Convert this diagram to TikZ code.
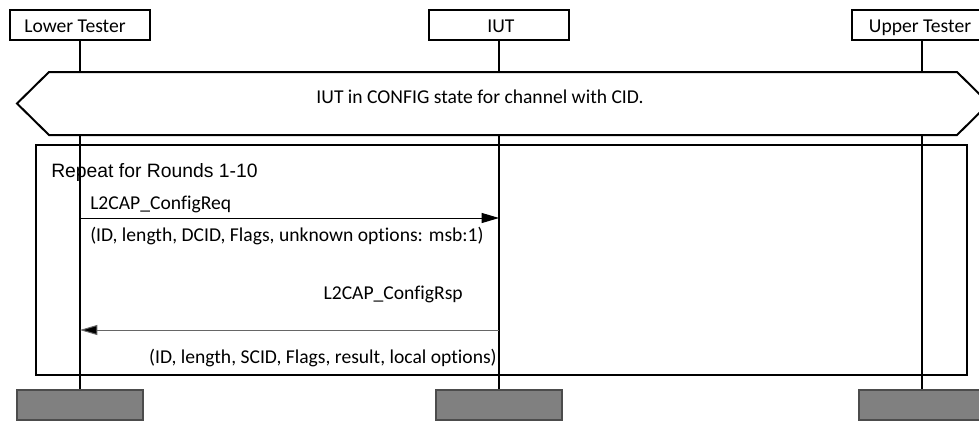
\documentclass[tikz,border=0pt]{standalone}
\usepackage{fontspec}
\setmainfont{Carlito}[Ligatures={NoCommon}]
\newfontfamily\arialf{Liberation Sans}
\usetikzlibrary{arrows.meta}
\begin{document}
\begin{tikzpicture}[x=0.75pt,y=-0.75pt,
  actor/.style={draw,line width=1.5pt,minimum width=105pt,minimum height=22.5pt,inner sep=0pt,fill=white},
  endbox/.style={draw=black!70,line width=0.8pt,fill=black!50,minimum width=94.5pt,minimum height=22.5pt,inner sep=0pt},
  life/.style={line width=1.5pt},
  msg/.style={line width=0.75pt,-{Triangle[length=13pt,width=7.5pt]}},
  lbl/.style={font=\fontsize{14.7}{17}\selectfont,inner sep=0pt}]
\useasboundingbox (0,0) rectangle (979,421);
\clip (0,0) rectangle (979,421);
% actors
\node[actor] (lt) at (80,25) {};
\node[actor] (iut) at (499,25) {};
\node[actor] (ut) at (922,25) {};
\node[lbl,anchor=base] (ltl) at (75,32) {Lower Tester};
\node[lbl,anchor=base] (iutl) at (501,32) {IUT};
\node[lbl,anchor=base] (utl) at (920,32) {Upper Tester};
% end boxes
\node[endbox] (ltb) at (80,405) {};
\node[endbox] (iutb) at (499,405) {};
\node[endbox] (utb) at (922,405) {};
% lifelines
\draw[life] (lt.south) -- (ltb.north);
\draw[life] (iut.south) -- (iutb.north);
\draw[life] (ut.south) -- (utb.north);
% hexagon
\draw[line width=1.5pt,fill=white] (17,103.5) -- (49,72) -- (957,72) -- (989,103.5) -- (957,135) -- (49,135) -- cycle;
\node[lbl,anchor=base] (state) at (480,103) {IUT in CONFIG state for channel with CID.};
% repeat frame
\draw[line width=1.5pt] (36,145) rectangle (967,375);
\node[inner sep=0pt,anchor=base west,font=\arialf\fontsize{14.5}{16}\selectfont] (rep) at (51,177) {Repeat for Rounds 1-10};
% messages
\coordinate (a1) at (80,218);
\coordinate (b1) at (499,218);
\coordinate (a2) at (80,330);
\coordinate (b2) at (499,330);
\draw[msg] (a1) -- (b1);
\draw[msg,draw=black!60,-{Triangle[length=13pt,width=7.5pt,fill=black]}] (b2) -- (a2);
\node[lbl,anchor=base west] (m1) at (90,209) {L2CAP\_ConfigReq};
\node[lbl,anchor=base west] (m1p) at (90,241) {(ID, length, DCID, Flags, unknown options: msb:1)};
\node[lbl,anchor=base east] (m2) at (463,299) {L2CAP\_ConfigRsp};
\node[lbl,anchor=base east] (m2p) at (497,363) {(ID, length, SCID, Flags, result, local options)};
\end{tikzpicture}
\end{document}
